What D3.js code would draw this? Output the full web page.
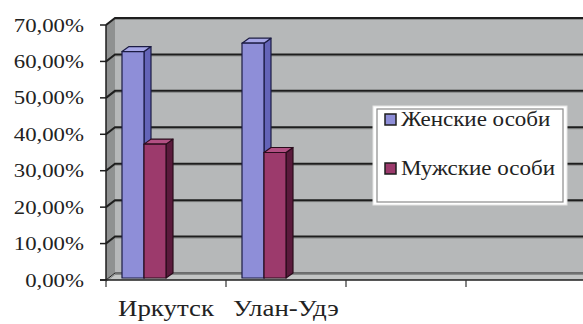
<!DOCTYPE html>
<html>
<head>
<meta charset="utf-8">
<script src="https://cdn.jsdelivr.net/npm/d3@7"></script>
<style>
  html, body { margin: 0; padding: 0; background: #fff; }
  svg { display: block; }
  text { font-family: "Liberation Serif", "Times New Roman", serif; fill: #222; }
</style>
</head>
<body>
<div id="chart"></div>
<script>
const categories = ["Иркутск", "Улан-Удэ", "", ""];
const seriesNames = ["Женские особи", "Мужские особи"];
const femaleValues = [0.627, 0.65, null, null];
const maleValues = [0.373, 0.35, null, null];
const yTicks = [0, 0.1, 0.2, 0.3, 0.4, 0.5, 0.6, 0.7];

const width = 583, height = 324;
const wallDx = 9, wallDy = -7;   // depth of the back wall
const barDx = 7, barDy = -5;     // depth of each column

const colors = {
  front: ["#8e8ed8", "#9c3a6c"],
  side: ["#6464b8", "#5a1a3c"],
  top: ["#a6a6e6", "#b25083"],
  stroke: ["#1c1c44", "#2a0c1c"]
};

const ru = d3.formatLocale({ decimal: ",", thousands: " ", grouping: [3], currency: ["", " ₽"], percent: "%" });
const fmt = ru.format(".2%");

const svg = d3.select("#chart").append("svg")
  .attr("width", width)
  .attr("height", height);

const x = d3.scaleBand()
  .domain(d3.range(categories.length))
  .range([106, 586]);

const x1 = d3.scaleBand()
  .domain(seriesNames)
  .range([16, 60]);

const y = d3.scaleLinear()
  .domain([0, 0.7])
  .range([280, 25]);

const left = x.range()[0];
const right = width;
const y0 = y(0), yTop = y(0.7);

// walls
svg.append("polygon")
  .attr("points", [[left, yTop], [left + wallDx, yTop + wallDy], [left + wallDx, y0 + wallDy], [left, y0]].join(" "))
  .attr("fill", "#8f9191");
svg.append("rect")
  .attr("x", left + wallDx).attr("y", yTop + wallDy)
  .attr("width", right - left - wallDx).attr("height", y0 - yTop)
  .attr("fill", "#b6b8b9");
svg.append("polygon")
  .attr("points", [[left, y0], [left + wallDx, y0 + wallDy], [right, y0 + wallDy], [right, y0]].join(" "))
  .attr("fill", "#c3c5c5");

// gridlines on side wall and back wall
const grid = svg.append("g");
yTicks.forEach(t => {
  const yy = y(t);
  grid.append("path")
    .attr("d", `M${left},${yy + 1.5}L${left + wallDx},${yy + wallDy + 1.5}L${right},${yy + wallDy + 1.5}`)
    .attr("fill", "none").attr("stroke", "#8a8c8c").attr("stroke-width", 1);
  grid.append("path")
    .attr("d", `M${left},${yy}L${left + wallDx},${yy + wallDy}L${right},${yy + wallDy}`)
    .attr("fill", "none").attr("stroke", "#1e1e1e").attr("stroke-width", t === 0 ? 1 : 2);
});

// columns
const seriesValues = [femaleValues, maleValues];
const bars = svg.append("g");
categories.forEach((c, i) => {
  seriesNames.forEach((s, k) => {
    const v = seriesValues[k][i];
    if (v == null) return;
    const bx = x(i) + x1(s);
    const bw = x1.bandwidth();
    const by = y(v);
    const bb = y0 - 2;
    const g = bars.append("g")
      .attr("stroke", colors.stroke[k])
      .attr("stroke-width", 1.2)
      .attr("stroke-linejoin", "round");
    g.append("polygon")
      .attr("points", [[bx + bw, by], [bx + bw + barDx, by + barDy], [bx + bw + barDx, bb + barDy], [bx + bw, bb]].join(" "))
      .attr("fill", colors.side[k]);
    g.append("polygon")
      .attr("points", [[bx, by], [bx + barDx, by + barDy], [bx + bw + barDx, by + barDy], [bx + bw, by]].join(" "))
      .attr("fill", colors.top[k]);
    g.append("rect")
      .attr("x", bx).attr("y", by)
      .attr("width", bw).attr("height", bb - by)
      .attr("fill", colors.front[k]);
  });
});

// y axis
const yAxis = svg.append("g");
yAxis.append("line")
  .attr("x1", left).attr("x2", left)
  .attr("y1", yTop).attr("y2", y0 + 1)
  .attr("stroke", "#1e1e1e").attr("stroke-width", 1.5);
yTicks.forEach(t => {
  yAxis.append("line")
    .attr("x1", left - 6).attr("x2", left)
    .attr("y1", y(t)).attr("y2", y(t))
    .attr("stroke", "#1e1e1e").attr("stroke-width", 1.5);
  yAxis.append("text")
    .attr("transform", `translate(84,${y(t) + 6.5}) scale(1.2,1)`)
    .attr("text-anchor", "end")
    .attr("font-size", 19)
    .attr("fill", "#2a2a2a")
    .text(fmt(t));
});

// x axis
const xAxis = svg.append("g");
xAxis.append("line")
  .attr("x1", left - 6).attr("x2", right)
  .attr("y1", y0).attr("y2", y0)
  .attr("stroke", "#1e1e1e").attr("stroke-width", 1.5);
categories.forEach((c, i) => {
  xAxis.append("line")
    .attr("x1", x(i)).attr("x2", x(i))
    .attr("y1", y0).attr("y2", y0 + 7)
    .attr("stroke", "#333").attr("stroke-width", 1.2);
  if (c) {
    xAxis.append("text")
      .attr("transform", `translate(${x(i) + x.bandwidth() / 2},316) scale(1.12,1)`)
      .attr("text-anchor", "middle")
      .attr("font-size", 24)
      .text(c);
  }
});

// legend
const legend = svg.append("g");
legend.append("rect")
  .attr("x", 373).attr("y", 106).attr("width", 194).attr("height", 99)
  .attr("fill", "#fff").attr("stroke", "#e4e4e4");
legend.append("rect")
  .attr("x", 377).attr("y", 109).attr("width", 186).attr("height", 93)
  .attr("fill", "#fff").attr("stroke", "#8a8a8a").attr("stroke-width", 1.2);
seriesNames.forEach((s, k) => {
  const ly = 126 + k * 49;
  legend.append("rect")
    .attr("x", 385).attr("y", ly - 12).attr("width", 11).attr("height", 11)
    .attr("fill", colors.front[k]).attr("stroke", "#1e1e1e").attr("stroke-width", 1.5);
  legend.append("text")
    .attr("transform", `translate(401,${ly}) scale(1.15,1)`)
    .attr("font-size", 20)
    .text(s);
});
</script>
</body>
</html>
